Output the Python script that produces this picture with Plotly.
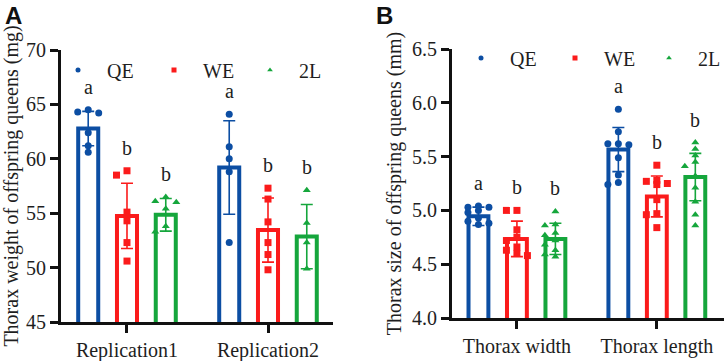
import plotly.graph_objects as go

W, H = 726, 361

series = ["QE", "WE", "2L"]
colors = {"QE": "#0c4ea3", "WE": "#fb1b1b", "2L": "#15a63c"}
symbols = {"QE": "circle", "WE": "square", "2L": "triangle-up"}

# ---------------- Panel A: thorax weight (mg) ----------------
cats_A = ["Replication1", "Replication2"]
mean_A_QE = [62.78, 59.2]
sd_A_QE = [1.58, 4.3]
pts_A_QE = [[64.2, 64.3, 64.5, 62.4, 61.2, 60.6], [64.1, 61.1, 60.0, 58.8, 52.3]]
mean_A_WE = [54.75, 53.45]
sd_A_WE = [3.0, 2.95]
pts_A_WE = [[58.5, 58.9, 55.1, 54.3, 52.3, 50.6], [57.3, 56.3, 54.2, 52.3, 51.2, 49.8]]
mean_A_2L = [54.85, 52.85]
sd_A_2L = [1.5, 2.95]
pts_A_2L = [[56.0, 56.5, 56.1, 55.4, 53.8, 53.3], [57.1, 54.1, 52.3, 49.9]]
letters_A = {"QE": ["a", "a"], "WE": ["b", "b"], "2L": ["b", "b"]}
ticks_A = [45, 50, 55, 60, 65, 70]
ytitle_A = "Thorax weight of offspring queens (mg)"

# ---------------- Panel B: thorax size (mm) ----------------
cats_B = ["Thorax width", "Thorax length"]
mean_B_QE = [4.945, 5.565]
sd_B_QE = [0.085, 0.205]
pts_B_QE = [[5.04, 5.03, 5.03, 5.00, 4.98, 4.93, 4.90, 4.88, 4.87],
            [5.94, 5.73, 5.62, 5.62, 5.61, 5.49, 5.33, 5.26, 5.24]]
mean_B_WE = [4.735, 5.13]
sd_B_WE = [0.165, 0.19]
pts_B_WE = [[5.00, 5.00, 4.82, 4.75, 4.72, 4.66, 4.63, 4.60, 4.58],
            [5.42, 5.28, 5.27, 5.25, 5.24, 5.10, 4.97, 4.96, 4.84]]
mean_B_2L = [4.735, 5.31]
sd_B_2L = [0.145, 0.22]
pts_B_2L = [[4.99, 4.87, 4.86, 4.79, 4.77, 4.72, 4.68, 4.63, 4.59, 4.57],
            [5.63, 5.57, 5.51, 5.45, 5.41, 5.32, 5.21, 5.08, 4.96, 4.86]]
letters_B = {"QE": ["a", "a"], "WE": ["b", "b"], "2L": ["b", "b"]}
ticks_B = [4.0, 4.5, 5.0, 5.5, 6.0, 6.5]
ytitle_B = "Thorax size of offspring queens (mm)"

FONT = "Liberation Serif"
TXT = "#1e1e1e"

panels = [
    dict(xa="x", ya="y", xkey="xaxis", ykey="yaxis", legend="legend",
         cats=cats_A, ticks=ticks_A, title=ytitle_A, fmt="d", standoff=6,
         xdom=[61 / W, 333 / W], ydom=[1 - 322 / H, 1 - 50 / H],
         xr=[-0.468, 1.461], yr=[45, 70],
         mean={"QE": mean_A_QE, "WE": mean_A_WE, "2L": mean_A_2L},
         sd={"QE": sd_A_QE, "WE": sd_A_WE, "2L": sd_A_2L},
         pts={"QE": pts_A_QE, "WE": pts_A_WE, "2L": pts_A_2L},
         letters=letters_A, leg_x=49, leg_y=70, ew=33, label="A", lab_x=13),
    dict(xa="x2", ya="y2", xkey="xaxis2", ykey="yaxis2", legend="legend2",
         cats=cats_B, ticks=ticks_B, title=ytitle_B, fmt=".1f", standoff=6,
         xdom=[452 / W, 724 / W], ydom=[1 - 318 / H, 1 - 49 / H],
         xr=[-0.464, 1.48], yr=[4.0, 6.5],
         mean={"QE": mean_B_QE, "WE": mean_B_WE, "2L": mean_B_2L},
         sd={"QE": sd_B_QE, "WE": sd_B_WE, "2L": sd_B_2L},
         pts={"QE": pts_B_QE, "WE": pts_B_WE, "2L": pts_B_2L},
         letters=letters_B, leg_x=452, leg_y=58, ew=31, label="B", lab_x=384),
]

offsets = {"QE": -0.275, "WE": 0.0, "2L": 0.275}
BAR_W = 0.142


def swarm(values, ppu_x, ppu_y, step_px=10.5, dmin=6.0):
    """Deterministic spreading of points within the bar (x offsets in data units)."""
    placed = []
    out = [0.0] * len(values)
    order = sorted(range(len(values)), key=lambda k: -values[k])
    for k in order:
        vy = values[k] * ppu_y
        best, best_d = 0.0, -1.0
        for j in [0, -1, 1]:
            ox = j * step_px
            d = min([((ox - px) ** 2 + (vy - py) ** 2) ** 0.5 for px, py in placed] or [99])
            if d >= dmin:
                best = ox
                break
            if d > best_d + 1.0:
                best, best_d = ox, d
        placed.append((best, vy))
        out[k] = best / ppu_x
    return out


fig = go.Figure()
annotations = []

for p in panels:
    ppu_x = (p["xdom"][1] - p["xdom"][0]) * W / (p["xr"][1] - p["xr"][0])
    ppu_y = (p["ydom"][1] - p["ydom"][0]) * H / (p["yr"][1] - p["yr"][0])
    for s in series:
        xs = [i + offsets[s] for i in range(len(p["cats"]))]
        fig.add_trace(go.Bar(
            x=xs, y=p["mean"][s], width=BAR_W, xaxis=p["xa"], yaxis=p["ya"],
            marker=dict(color="rgba(255,255,255,0)", line=dict(color=colors[s], width=4)),
            error_y=dict(type="data", array=p["sd"][s], color=colors[s], thickness=1.6, width=6),
            showlegend=False, hoverinfo="skip"))
    for s in series:
        px_all, py_all = [], []
        for i, vals in enumerate(p["pts"][s]):
            offs = swarm(vals, ppu_x, ppu_y)
            px_all += [i + offsets[s] + o for o in offs]
            py_all += vals
        fig.add_trace(go.Scatter(
            x=px_all, y=py_all, mode="markers", xaxis=p["xa"], yaxis=p["ya"],
            marker=dict(symbol=symbols[s], size=7, color=colors[s], line=dict(width=0)),
            showlegend=False, hoverinfo="skip"))
    # legend entries
    for s in series:
        fig.add_trace(go.Scatter(
            x=[None], y=[None], mode="markers", name=s, legend=p["legend"],
            xaxis=p["xa"], yaxis=p["ya"],
            marker=dict(symbol=symbols[s], size=5, color=colors[s])))
    # significance letters
    for s in series:
        for i in range(len(p["cats"])):
            top = max(max(p["pts"][s][i]), p["mean"][s][i] + p["sd"][s][i])
            annotations.append(dict(
                x=i + offsets[s], y=top, xref=p["xa"], yref=p["ya"],
                text=p["letters"][s][i], showarrow=False, yanchor="bottom",
                yshift=10, font=dict(family=FONT, size=20, color=TXT)))
    # panel label
    annotations.append(dict(
        x=p["lab_x"] / W, y=1, xref="paper", yref="paper",
        text="<b>%s</b>" % p["label"], showarrow=False, xanchor="center", yanchor="top",
        font=dict(family="Liberation Sans", size=24, color="#111")))

    axis_common = dict(showline=True, linewidth=3, linecolor="#111", ticks="outside",
                       ticklen=8, tickwidth=3, tickcolor="#111", showgrid=False,
                       zeroline=False, fixedrange=True, automargin=False,
                       tickfont=dict(family=FONT, size=20, color=TXT))
    fig.update_layout(**{
        p["xkey"]: dict(domain=p["xdom"], range=p["xr"], tickmode="array",
                        tickvals=list(range(len(p["cats"]))), ticktext=p["cats"],
                        anchor=p["ya"], **axis_common),
        p["ykey"]: dict(domain=p["ydom"], range=p["yr"], tickmode="array",
                        tickvals=p["ticks"], tickformat=p["fmt"], anchor=p["xa"],
                        title=dict(text=p["title"], standoff=p["standoff"],
                                   font=dict(family=FONT, size=20, color=TXT)),
                        **axis_common),
        p["legend"]: dict(orientation="h", x=p["leg_x"] / W, y=1 - p["leg_y"] / H,
                          xanchor="left", yanchor="middle", bgcolor="rgba(0,0,0,0)",
                          font=dict(family=FONT, size=20, color=TXT),
                          itemwidth=48, entrywidth=p["ew"],
                          itemclick=False, itemdoubleclick=False),
    })

fig.update_layout(
    width=W, height=H, margin=dict(l=0, r=0, t=0, b=0, autoexpand=False),
    font=dict(family=FONT, color=TXT),
    paper_bgcolor="white", plot_bgcolor="white", barmode="overlay",
    annotations=annotations, showlegend=True,
)

fig.write_html("out.html", config={"displayModeBar": False},
               post_script="document.body.style.margin='0';document.body.style.overflow='hidden';")
